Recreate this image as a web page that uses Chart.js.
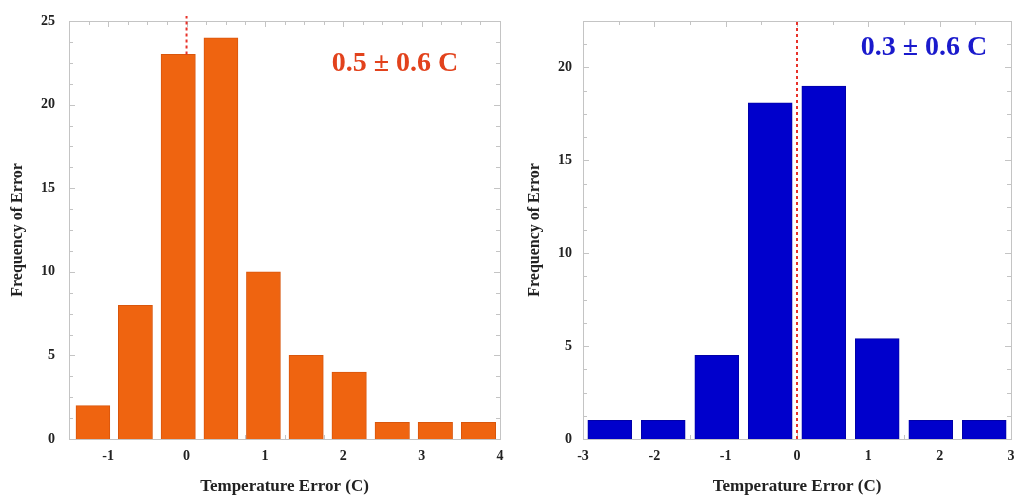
<!DOCTYPE html>
<html>
<head>
<meta charset="utf-8">
<script src="https://cdn.jsdelivr.net/npm/chart.js@4"></script>
<style>
  html, body { margin: 0; padding: 0; background: #fff; }
  .box { position: absolute; top: 0; width: 508px; height: 497px; }
</style>
</head>
<body>
<div class="box" style="left:0"><canvas id="leftChart" width="508" height="497"></canvas></div>
<div class="box" style="left:508px"><canvas id="rightChart" width="508" height="497"></canvas></div>
<script>
// left panel: errors binned (orange)
const leftCenters = [-1.195, -0.655, -0.105, 0.44, 0.98, 1.525, 2.075, 2.625, 3.175, 3.725];
const leftCounts = [2, 8, 23, 24, 10, 5, 4, 1, 1, 1];
const leftZeroLine = [23, 25.3];
const leftLabel = '0.5 ± 0.6 C';

// right panel (blue)
const rightCenters = [-2.625, -1.875, -1.125, -0.375, 0.375, 1.125, 1.875, 2.625];
const rightCounts = [1, 1, 4.5, 18.1, 19, 5.4, 1, 1];
const rightZeroLine = [0, 22.5];
const rightLabel = '0.3 ± 0.6 C';

const FONT = "'Liberation Serif', 'DejaVu Serif', serif";

// gray frame with inward tick marks on all four sides
const framePlugin = {
    id: 'frame',
    beforeDatasetsDraw(chart) {
        const { ctx, chartArea: a, scales } = chart;
        ctx.save();
        ctx.strokeStyle = '#c4c4c4';
        ctx.lineWidth = 1;
        ctx.strokeRect(a.left + 0.5, a.top + 0.5, a.right - a.left, a.bottom - a.top);
        ctx.beginPath();
        scales.x.ticks.forEach(t => {
            const px = Math.round(scales.x.getPixelForValue(t.value)) + 0.5;
            const len = Number.isInteger(t.value) ? 6 : 4;
            ctx.moveTo(px, a.bottom); ctx.lineTo(px, a.bottom - len);
            ctx.moveTo(px, a.top); ctx.lineTo(px, a.top + len);
        });
        scales.y.ticks.forEach(t => {
            const py = Math.round(scales.y.getPixelForValue(t.value)) + 0.5;
            const len = t.value % 5 === 0 ? 6 : 4;
            ctx.moveTo(a.left, py); ctx.lineTo(a.left + len, py);
            ctx.moveTo(a.right, py); ctx.lineTo(a.right - len, py);
        });
        ctx.stroke();
        ctx.restore();
    },
    afterDraw(chart) {
        const o = chart.options.plugins.note;
        const { ctx, chartArea: a } = chart;
        ctx.save();
        ctx.font = 'bold 28px ' + FONT;
        ctx.fillStyle = o.color;
        ctx.textAlign = 'center';
        ctx.textBaseline = 'middle';
        ctx.fillText(o.text, a.left + o.dx, a.top + o.dy);
        ctx.restore();
    }
};

function makeChart(id, cfg) {
    const ctx = document.getElementById(id).getContext('2d');
    return new Chart(ctx, {
        type: 'bar',
        data: {
            datasets: [{
                type: 'line',
                data: cfg.zeroLine.map(v => ({ x: 0, y: v })),
                borderColor: '#e8322a',
                borderWidth: 2,
                borderDash: [3, 3],
                pointRadius: 0,
                clip: false,
                order: 0
            }, {
                data: cfg.centers.map((c, i) => ({ x: c, y: cfg.counts[i] })),
                backgroundColor: cfg.color,
                borderColor: cfg.edge,
                borderWidth: 1,
                barThickness: 'flex',
                barPercentage: cfg.barPct,
                categoryPercentage: 1,
                order: 1
            }]
        },
        options: {
            responsive: false,
            animation: false,
            layout: { padding: { top: 21, right: cfg.padRight, left: 0, bottom: 0 } },
            plugins: {
                legend: { display: false },
                tooltip: { enabled: false },
                note: { text: cfg.label, color: cfg.noteColor, dx: cfg.noteX, dy: cfg.noteY }
            },
            scales: {
                x: {
                    type: 'linear',
                    min: cfg.xMin,
                    max: cfg.xMax,
                    offset: false,
                    grid: { display: false, drawTicks: false },
                    border: { display: false },
                    ticks: {
                        stepSize: cfg.xStep,
                        autoSkip: false,
                        maxRotation: 0,
                        padding: 9,
                        color: '#222',
                        font: { family: FONT, size: 14, weight: 'bold' },
                        callback: v => Number.isInteger(v) ? String(v) : ''
                    },
                    title: {
                        display: true,
                        text: 'Temperature Error (C)',
                        color: '#222',
                        font: { family: FONT, size: 17, weight: 'bold' },
                        padding: { top: 0, bottom: 0 }
                    },
                    afterFit: s => { s.height = 58; s.paddingLeft = 0; s.paddingRight = 0; }
                },
                y: {
                    min: 0,
                    max: cfg.yMax,
                    grid: { display: false, drawTicks: false },
                    border: { display: false },
                    ticks: {
                        stepSize: 1.25,
                        autoSkip: false,
                        padding: cfg.yPad,
                        color: '#222',
                        font: { family: FONT, size: 14, weight: 'bold' },
                        callback: v => v % 5 === 0 ? String(v) : ''
                    },
                    title: {
                        display: true,
                        text: 'Frequency of Error',
                        color: '#222',
                        font: { family: FONT, size: 16, weight: 'bold' },
                        padding: { top: cfg.titlePad, bottom: 0 }
                    },
                    afterFit: s => { s.width = cfg.yWidth; s.paddingTop = 0; s.paddingBottom = 0; }
                }
            }
        },
        plugins: [framePlugin]
    });
}

makeChart('leftChart', {
    centers: leftCenters, counts: leftCounts, zeroLine: leftZeroLine, label: leftLabel,
    color: '#ef6410', edge: '#d9560c', noteColor: '#e2421c',
    barPct: 0.8, xMin: -1.5, xMax: 4, xStep: 0.25, yMax: 25,
    yWidth: 69, padRight: 8, yPad: 14, titlePad: 8, noteX: 326, noteY: 43
});

makeChart('rightChart', {
    centers: rightCenters, counts: rightCounts, zeroLine: rightZeroLine, label: rightLabel,
    color: '#0000cc', edge: '#0000a8', noteColor: '#1a1acc',
    barPct: 0.82, xMin: -3, xMax: 3, xStep: 0.5, yMax: 22.5,
    yWidth: 75, padRight: 5, yPad: 11, titlePad: 17, noteX: 341, noteY: 27
});
</script>
</body>
</html>
